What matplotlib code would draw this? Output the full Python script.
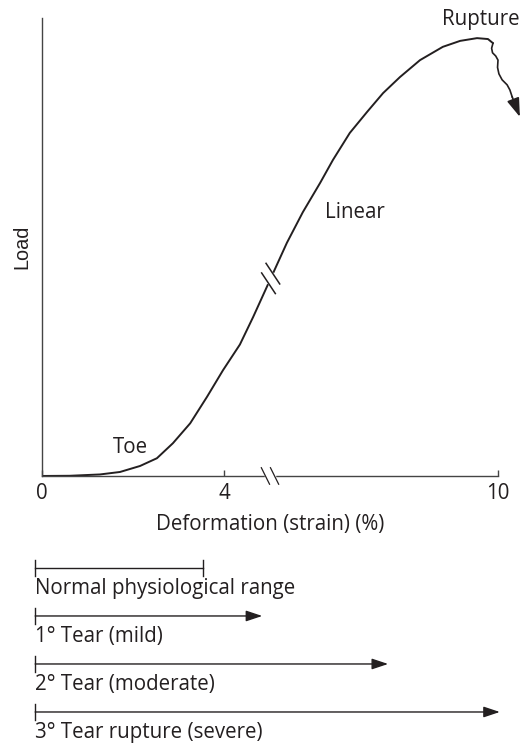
import numpy as np
import matplotlib.pyplot as plt

# load-deformation curve (strain %, load arbitrary 0-100)
strain = [0.0, 0.61, 1.27, 1.71, 2.15, 2.52, 2.87, 3.25, 3.62, 3.97, 4.34,
          4.63, 5.0, 5.37, 5.72, 6.10, 6.38, 6.75, 7.13, 7.48, 7.85, 8.29,
          8.79, 9.17, 9.54, 9.78, 9.89]
load = [0.0, 0.04, 0.33, 0.87, 2.18, 3.87, 7.14, 11.5, 17.3, 23.1, 28.7,
        34.7, 42.8, 50.9, 57.6, 64.0, 69.0, 74.9, 79.5, 83.6, 87.1, 90.8,
        93.7, 95.0, 95.6, 95.4, 94.5]

# wavy drop after rupture
rup_strain = [9.89, 9.86, 9.88, 9.95, 10.0, 9.99, 10.02, 10.09, 10.2, 10.26, 10.31, 10.48]
rup_load = [94.5, 93.4, 92.4, 91.7, 90.8, 89.2, 87.8, 86.5, 85.4, 84.3, 82.8, 78.4]

ticks = [0, 4, 10]
tick_labels = ['0', '4', '10']

labels = ['Normal physiological range', '1\u00b0 Tear (mild)',
          '2\u00b0 Tear (moderate)', '3\u00b0 Tear rupture (severe)']
range_start = -0.15
range_end = [3.53, 4.83, 7.59, 10.04]

plt.rcParams['font.family'] = ['Open Sans', 'DejaVu Sans']
ink = '#231f20'
fs = 14.8

fig = plt.figure(figsize=(5.23, 7.43), dpi=100)
ax = fig.add_axes([0.0803, 0.3594, 0.8719, 0.6164])

ax.plot(strain, load, color=ink, lw=1.4, solid_capstyle='round',
        solid_joinstyle='round')
ax.plot(rup_strain[:-1], rup_load[:-1], color=ink, lw=1.2, clip_on=False,
        solid_joinstyle='round')
ax.annotate('', xy=(rup_strain[-1], rup_load[-1]),
            xytext=(rup_strain[-2], rup_load[-2]),
            arrowprops=dict(arrowstyle='-|>,head_length=0.95,head_width=0.32',
                            color=ink, lw=1.2, shrinkA=0, shrinkB=0,
                            mutation_scale=12),
            annotation_clip=False)

ax.set_xlim(0, 10)
ax.set_ylim(0, 100)
ax.spines[['top', 'right']].set_visible(False)
for s in ['left', 'bottom']:
    ax.spines[s].set_color('#444444')
    ax.spines[s].set_linewidth(1.0)
ax.set_yticks([])
ax.set_xticks(ticks, tick_labels, fontsize=fs, color=ink)
ax.tick_params(axis='x', direction='in', length=4, width=1.0,
               color='#444444', pad=5)
ax.set_xlabel('Deformation (strain) (%)', fontsize=fs, color=ink, labelpad=7)
ax.set_ylabel('Load', fontsize=fs - 0.5, color=ink, family='Liberation Sans',
              labelpad=8)

# break marks on the x axis
bx = 5.0
ax.plot([bx - 0.09, bx + 0.09], [0, 0], color='white', lw=2.5,
        clip_on=False, zorder=5)
for dx in (-0.1, 0.1):
    ax.plot([bx + dx - 0.09, bx + dx + 0.09], [1.8, -1.8], color=ink,
            lw=0.9, clip_on=False, zorder=6)

# break marks on the curve
cx = 5.015
cy = np.interp(cx, strain, load)
ax.plot([cx - 0.04, cx + 0.04], [cy - 0.85, cy + 0.85], color='white',
        lw=3, zorder=5)
for off in (-0.048, 0.048):
    ox = cx + off
    oy = np.interp(ox, strain, load)
    ax.plot([ox - 0.15, ox + 0.15], [oy + 2.25, oy - 2.25], color=ink,
            lw=1.1, zorder=6)

ax.text(10.48, 99.6, 'Rupture', fontsize=fs, color=ink, ha='right',
        va='center')
ax.text(6.87, 57.6, 'Linear', fontsize=fs, color=ink, ha='center',
        va='center')
ax.text(1.95, 6.3, 'Toe', fontsize=fs, color=ink, ha='center',
        va='center')

# severity ranges below
bx2 = fig.add_axes([0.0803, 0.0, 0.8719, 0.2625])
bx2.set_xlim(0, 10)
bx2.set_ylim(3.646, -0.4167)
bx2.axis('off')
for i, (lab, end) in enumerate(zip(labels, range_end)):
    bx2.plot([range_start, range_start], [i - 0.17, i + 0.17], color=ink,
             lw=1.0, clip_on=False)
    if i == 0:
        bx2.plot([range_start, end], [i, i], color=ink, lw=1.0,
                 clip_on=False)
        bx2.plot([end, end], [i - 0.17, i + 0.17], color=ink, lw=1.0,
                 clip_on=False)
    else:
        bx2.annotate('', xy=(end, i), xytext=(range_start, i),
                     arrowprops=dict(arrowstyle='-|>,head_length=0.9,head_width=0.3',
                                     color=ink, lw=1.0, shrinkA=0, shrinkB=0,
                                     mutation_scale=11),
                     annotation_clip=False)
    bx2.text(range_start, i + 0.43, lab, fontsize=fs, color=ink,
             ha='left', va='center', clip_on=False)

fig.savefig('out.png', dpi=100)
